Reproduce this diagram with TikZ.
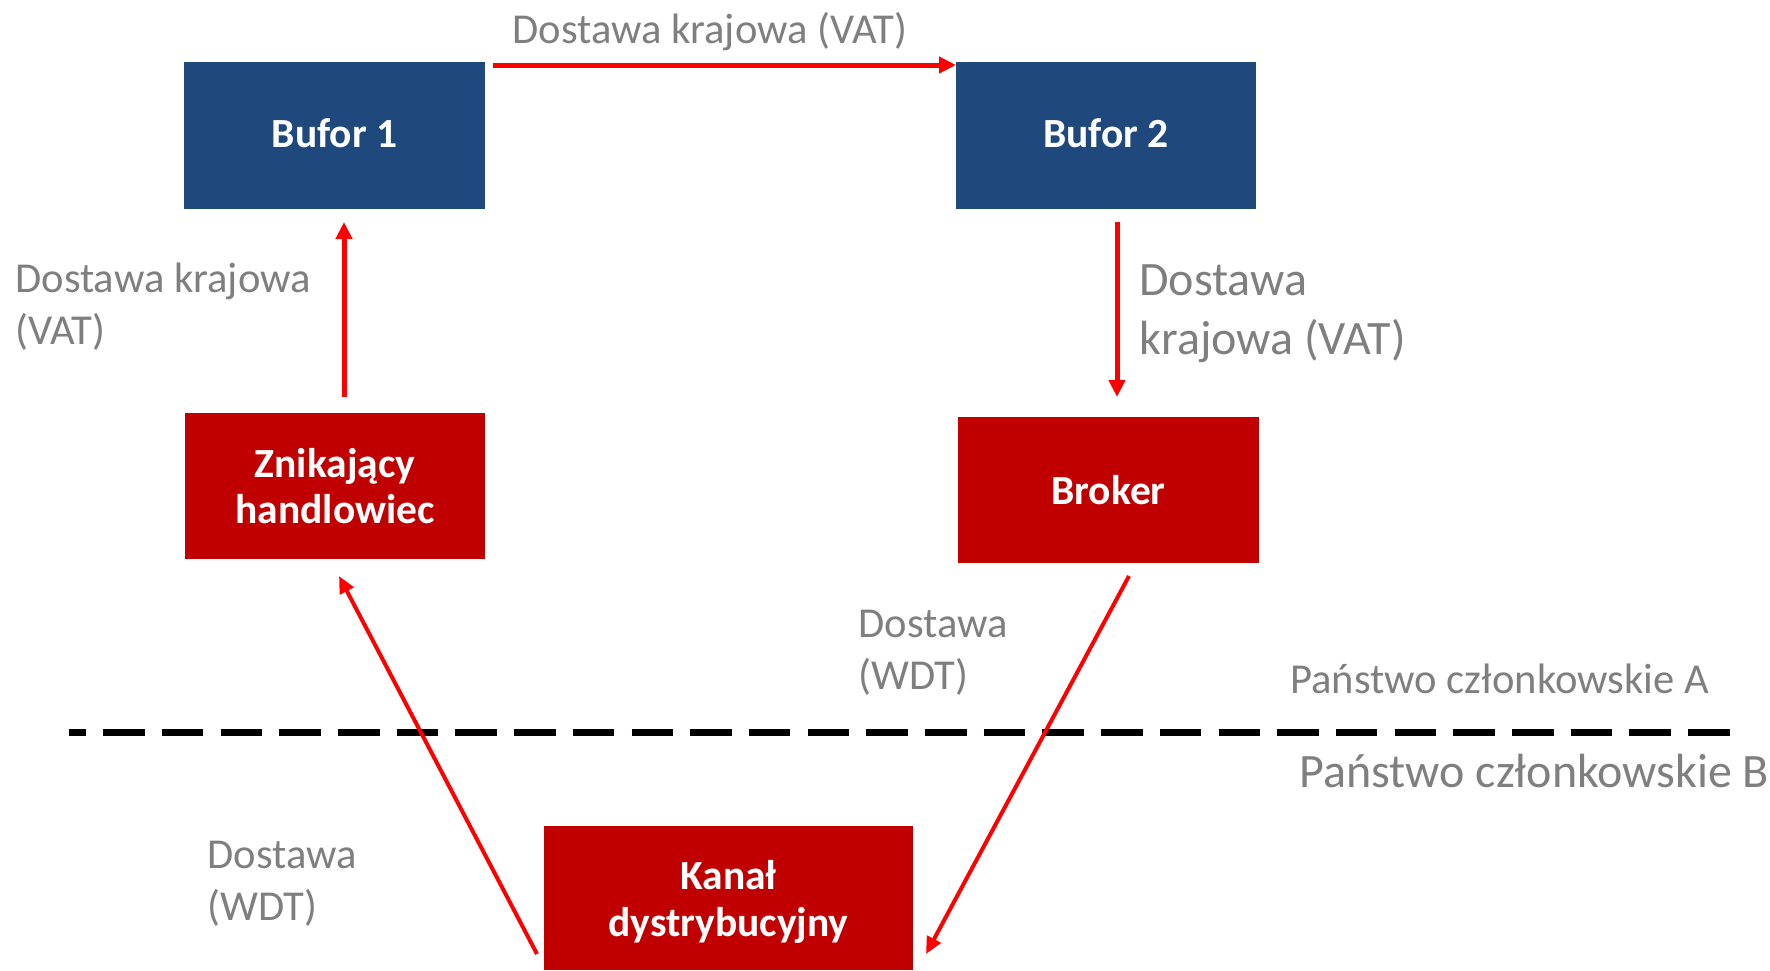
\documentclass[tikz,border=0pt]{standalone}
\usepackage{fontspec}
\setmainfont{Carlito}
\usetikzlibrary{arrows.meta,calc}
\definecolor{bufblue}{RGB}{31,73,125}
\definecolor{boxred}{RGB}{192,0,0}
\definecolor{arrred}{RGB}{255,0,0}
\definecolor{lblgray}{RGB}{127,127,127}
\tikzset{
  box/.style={minimum width=150pt, minimum height=73.5pt, inner sep=0pt, outer sep=0pt,
    text=white, align=center, font=\fontsize{20.75}{23}\selectfont\bfseries},
  bluebox/.style={box, fill=bufblue},
  redbox/.style={box, fill=boxred},
  lbl/.style={text=lblgray, align=left, inner sep=0pt, anchor=base west,
    font=\fontsize{21.3}{26}\selectfont},
  biglbl/.style={lbl, font=\fontsize{24}{29.5}\selectfont},
  flow/.style={draw=arrred, line width=2.5pt, -{Triangle[length=8.5pt,width=8pt]}},
  diagflow/.style={draw=arrred, line width=2pt, -{Triangle[length=8.5pt,width=7.5pt]}},
  border/.style={draw=black, line width=3.5pt, dash pattern=on 20.75pt off 8.6pt, dash phase=12.25pt}
}
\begin{document}
\begin{tikzpicture}[x=0.5pt,y=-0.5pt]
\useasboundingbox (0,0) rectangle (1770,970);
% boxes
\node[bluebox, minimum width=150.5pt, text depth=2pt] (b1) at (334.5,135.5) {Bufor 1};
\node[bluebox, text depth=2pt] (b2) at (1106,135.5) {Bufor 2};
\node[redbox, minimum height=73pt] (zn) at (335,486) {Znikający\\handlowiec};
\node[redbox, minimum width=150.5pt, minimum height=73pt] (br) at (1108.5,490) {Broker};
\node[redbox, minimum width=184.5pt, minimum height=72pt, text depth=0pt, font=\fontsize{20.75}{23.5}\selectfont\bfseries] (kd) at (728.5,898) {Kanał\\dystrybucyjny};
% border line
\coordinate (lineL) at (69,732);
\coordinate (lineR) at (1730,732);
\draw[border] (lineL) -- (lineR);
% connectors
\draw[flow] ($(b1.north east)+(8,3)$) -- ($(b2.north west)+(0,3)$);
\draw[flow] ($(zn.north)+(9,-16)$) -- ($(b1.south)+(9.5,13)$);
\draw[flow] ($(b2.south)+(11,13)$) -- ($(br.north)+(8.5,-20)$);
\draw[diagflow] ($(kd.south west)+(-7,-16)$) -- ($(zn.south)+(4,17)$);
\draw[diagflow] ($(br.south)+(20.5,13)$) -- ($(kd.south east)+(13,-16)$);
% labels (base = last line)
\node[lbl] (l1) at (512,43) {Dostawa krajowa (VAT)};
\node[lbl] (l2) at (15,344) {Dostawa krajowa\\(VAT)};
\node[biglbl] (l3) at (1139,354) {Dostawa\\krajowa (VAT)};
\node[lbl] (l4) at (858,689) {Dostawa\\(WDT)};
\node[lbl] (l5) at (207,920) {Dostawa\\(WDT)};
\node[lbl] (sa) at (1290,693) {Państwo członkowskie A};
\node[biglbl] (sb) at (1299,787) {Państwo członkowskie B};
\end{tikzpicture}
\end{document}
